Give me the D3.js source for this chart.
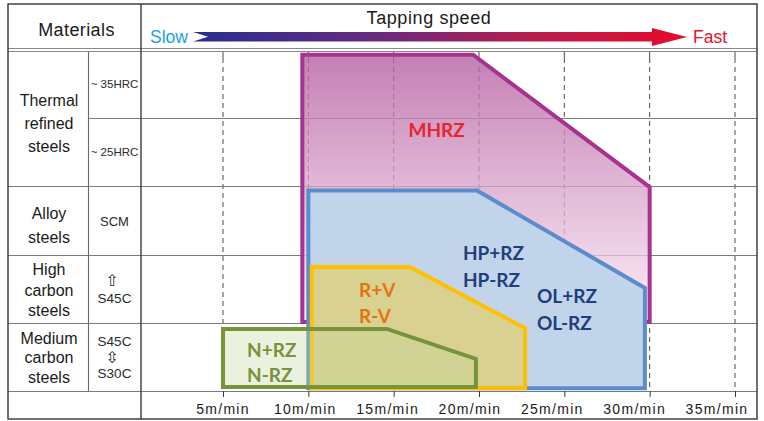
<!DOCTYPE html>
<html><head><meta charset="utf-8">
<script src="https://cdn.jsdelivr.net/npm/d3@7"></script>
<style>
html,body{margin:0;padding:0;background:#fff;}
svg{display:block;}
</style></head><body>
<svg id="chart" width="764" height="421"></svg>
<script>
// ---------------- data ----------------
const speedTicks = [5, 10, 15, 20, 25, 30, 35];
const tickLabels = ["5m/min", "10m/min", "15m/min", "20m/min", "25m/min", "30m/min", "35m/min"];
const rowBoundaries = [0, 1, 2, 3, 4, 5];          // row units, 0 = bottom of "Medium carbon"
const groupNames = [["Thermal", "refined", "steels"], ["Alloy", "steels"], ["High", "carbon", "steels"], ["Medium", "carbon", "steels"]];
const groupRows = [[3, 5], [2, 3], [1, 2], [0, 1]];
const gradeLabels = [["~ 35HRC"], ["~ 25HRC"], ["SCM"], ["⇧", "S45C"], ["S45C", "⇳", "S30C"]];
const gradeRows = [[4, 5], [3, 4], [2, 3], [1, 2], [0, 1]];

// tap ranges: speed (m/min) and material level (row units) of each outline vertex
const mhrzSpeed = [9.65, 19.65, 30.0, 30.0, 9.65];
const mhrzLevel = [4.93, 4.93, 2.99, 1.01, 1.01];
const hpSpeed   = [10.0, 19.88, 29.72, 29.72, 10.0];
const hpLevel   = [2.94, 2.94, 1.51, 0.04, 0.04];
const rvSpeed   = [10.2, 15.96, 22.7, 22.7, 10.2];
const rvLevel   = [1.82, 1.82, 0.92, 0.04, 0.04];
const nSpeed    = [5.0, 14.6, 19.82, 19.82, 5.0];
const nLevel    = [0.91, 0.91, 0.47, 0.06, 0.06];

// series labels: text lines, anchor speed, anchor level (baseline of each line)
const mhrzText = ["MHRZ"];          const mhrzAt = [17.52, [3.72]];
const hpText = ["HP+RZ", "HP-RZ"];   const hpAt = [19.06, [1.92, 1.525]];
const olText = ["OL+RZ", "OL-RZ"];   const olAt = [23.4, [1.29, 0.894]];
const rvText = ["R+V", "R-V"];       const rvAt = [12.97, [1.378, 0.997]];
const nText = ["N+RZ", "N-RZ"];      const nAt = [6.41, [0.4985, 0.132]];

// ---------------- layout ----------------
const svg = d3.select("#chart");
const L = 8, T = 4, R = 757, B = 419, C1 = 88, C2 = 141;
const x = d3.scaleLinear().domain([5, 35]).range([223, 735]);
const y = d3.scaleLinear().domain([0, 5]).range([391, 50]);
const labelX = d3.scalePoint().domain(tickLabels).range([223, 717]);
const sans = "'Liberation Sans', Arial, sans-serif";
const bold = "Lato, 'Open Sans', sans-serif";

const defs = svg.append("defs");
const ag = defs.append("linearGradient").attr("id", "arrowGrad")
  .attr("gradientUnits", "userSpaceOnUse").attr("x1", 193).attr("x2", 687).attr("y1", 0).attr("y2", 0);
[[0, "#262f8f"], [0.4, "#6e2a7c"], [0.7, "#b81e4c"], [1, "#e8092a"]].forEach(s =>
  ag.append("stop").attr("offset", s[0]).attr("stop-color", s[1]));
const mg = defs.append("linearGradient").attr("id", "mhrzGrad").attr("x1", 0).attr("x2", 0).attr("y1", 0).attr("y2", 1);
mg.append("stop").attr("offset", 0).attr("stop-color", "#b65fa1").attr("stop-opacity", 0.8);
mg.append("stop").attr("offset", 1).attr("stop-color", "#fae8f4").attr("stop-opacity", 0.75);

// grid: dashed verticals
svg.append("g").selectAll("line").data(speedTicks).join("line")
  .attr("x1", d => x(d)).attr("x2", d => x(d)).attr("y1", 58).attr("y2", y(0))
  .attr("stroke", "#4a4a4a").attr("stroke-width", 1).attr("stroke-dasharray", "5,4");
svg.append("g").selectAll("line").data(speedTicks).join("line")
  .attr("x1", d => x(d)).attr("x2", d => x(d)).attr("y1", 52).attr("y2", 58)
  .attr("stroke", "#4a4a4a").attr("stroke-width", 1);

// row lines
const inner = rowBoundaries.filter(r => r > 0 && r < 5);
svg.append("g").selectAll("line").data(inner).join("line")
  .attr("x1", d => d === 4 ? C1 : L).attr("x2", R)
  .attr("y1", d => Math.round(y(d)) + 0.5).attr("y2", d => Math.round(y(d)) + 0.5)
  .attr("stroke", "#7a7a7a").attr("stroke-width", 1);
svg.append("line").attr("x1", L).attr("x2", R).attr("y1", y(0) + 0.5).attr("y2", y(0) + 0.5)
  .attr("stroke", "#7a7a7a").attr("stroke-width", 1);
// header double line
[48.5, 51.5].forEach(v => svg.append("line").attr("x1", L).attr("x2", R).attr("y1", v).attr("y2", v)
  .attr("stroke", "#8a8a8a").attr("stroke-width", 1.2));
// column lines
svg.append("line").attr("x1", C1 + 0.5).attr("x2", C1 + 0.5).attr("y1", 52).attr("y2", y(0))
  .attr("stroke", "#6a6a6a").attr("stroke-width", 1.1);
svg.append("line").attr("x1", C2).attr("x2", C2).attr("y1", T).attr("y2", B)
  .attr("stroke", "#3a3a3a").attr("stroke-width", 1.4);

// shapes
const line = d3.line().x(d => x(d[0])).y(d => y(d[1])).curve(d3.curveLinearClosed);
const pts = (s, l) => s.map((v, i) => [v, l[i]]);
const shapes = [
  {p: pts(mhrzSpeed, mhrzLevel), fill: "url(#mhrzGrad)", stroke: "#a6338f"},
  {p: pts(hpSpeed, hpLevel), fill: "#c2d4ea", stroke: "#5b8ccc"},
  {p: pts(rvSpeed, rvLevel), fill: "rgba(255,204,0,0.38)", stroke: "#ffc000"},
  {p: pts(nSpeed, nLevel), fill: "rgba(196,215,155,0.35)", stroke: "#77933c"}
];
svg.append("g").selectAll("path").data(shapes).join("path")
  .attr("d", d => line(d.p)).attr("fill", d => d.fill).attr("stroke", d => d.stroke)
  .attr("stroke-width", 4).attr("stroke-linejoin", "miter");

// series labels
const lab = [
  {t: mhrzText, at: mhrzAt, c: "#e8252b", a: "middle"},
  {t: hpText, at: hpAt, c: "#1f3f7a", a: "start"},
  {t: olText, at: olAt, c: "#1f3f7a", a: "start"},
  {t: rvText, at: rvAt, c: "#e8730c", a: "start"},
  {t: nText, at: nAt, c: "#77933c", a: "start"}
];
lab.forEach(L2 => L2.t.forEach((t, i) => svg.append("text")
  .attr("x", x(L2.at[0])).attr("y", y(L2.at[1][i])).attr("text-anchor", L2.a)
  .attr("font-family", bold).attr("font-weight", 700).attr("font-size", 19)
  .attr("fill", L2.c).text(t)));

// axis
const ax = svg.append("g").attr("transform", `translate(0,${y(0)})`)
  .call(d3.axisBottom(x).tickValues(speedTicks).tickSize(6).tickFormat(""));
ax.select(".domain").remove();
ax.selectAll(".tick line").attr("stroke", "#3a3a3a");
svg.append("g").selectAll("text").data(tickLabels).join("text")
  .attr("x", d => labelX(d)).attr("y", 414).attr("text-anchor", "middle")
  .attr("font-family", sans).attr("font-size", 14).attr("letter-spacing", 1.3)
  .attr("fill", "#1a1a1a").text(d => d);

// header
svg.append("text").attr("x", (L + C2) / 2 + 2).attr("y", 36).attr("text-anchor", "middle")
  .attr("font-family", sans).attr("font-size", 18).attr("letter-spacing", 0.4).attr("fill", "#1a1a1a").text("Materials");
svg.append("text").attr("x", 429).attr("y", 24).attr("text-anchor", "middle")
  .attr("font-family", sans).attr("font-size", 18).attr("letter-spacing", 0.6).attr("fill", "#1a1a1a").text("Tapping speed");
svg.append("text").attr("x", 150).attr("y", 42.5)
  .attr("font-family", sans).attr("font-size", 17.5).attr("fill", "#1aa0e6").text("Slow");
svg.append("text").attr("x", 693).attr("y", 42.5)
  .attr("font-family", sans).attr("font-size", 17.5).attr("fill", "#e60f2a").text("Fast");
svg.append("path")
  .attr("d", "M193,32 L652,32 L652,28 L687,37 L652,46 L652,41.5 L193,41.5 L208,36.75 Z")
  .attr("fill", "url(#arrowGrad)");

// material group labels
const gStyle = [{lh: 23, dy: 11}, {lh: 24, dy: 10}, {lh: 20.5, dy: 7}, {lh: 19.5, dy: 6.5}];
groupNames.forEach((lines, gi) => {
  const cy = (y(groupRows[gi][0]) + y(groupRows[gi][1])) / 2;
  const n = lines.length, s = gStyle[gi];
  lines.forEach((t, i) => svg.append("text")
    .attr("x", 49).attr("y", cy + (i - (n - 1) / 2) * s.lh + s.dy).attr("text-anchor", "middle")
    .attr("font-family", sans).attr("font-size", 16).attr("fill", "#1a1a1a").text(t));
});
// grade labels
const grStyle = [{lh: 0, dy: 4, fs: 11.5}, {lh: 0, dy: 4, fs: 11.5}, {lh: 0, dy: 5, fs: 13}, {lh: 18, dy: 5, fs: 13.5}, {lh: 16, dy: 5, fs: 13.5}];
gradeLabels.forEach((lines, gi) => {
  const cy = (y(gradeRows[gi][0]) + y(gradeRows[gi][1])) / 2;
  const n = lines.length, s = grStyle[gi];
  lines.forEach((t, i) => {
    const arrow = t === "⇧" || t === "⇳";
    svg.append("text")
      .attr("x", arrow ? 112 : 114.5).attr("y", cy + (i - (n - 1) / 2) * s.lh + s.dy + (arrow ? 1 : 0))
      .attr("text-anchor", "middle")
      .attr("font-family", arrow ? "'DejaVu Sans', sans-serif" : sans)
      .attr("font-size", arrow ? 16 : s.fs).attr("fill", "#2a2a2a").text(t);
  });
});

// outer frame
svg.append("rect").attr("x", L).attr("y", T).attr("width", R - L).attr("height", B - T)
  .attr("fill", "none").attr("stroke", "#333").attr("stroke-width", 1.4);
</script>
</body></html>
